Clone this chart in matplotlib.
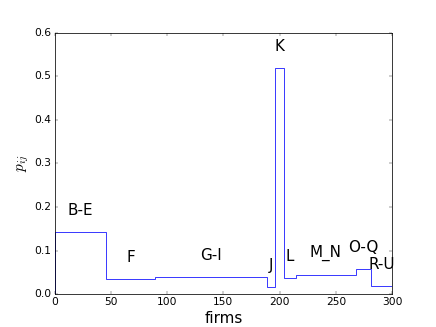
import numpy as np
import matplotlib
matplotlib.use('Agg')
import matplotlib.pyplot as plt

plt.style.use('classic')

# sector groups along the firm axis, with the share p_ij for each group
sectors = ['B-E', 'F', 'G-I', 'J', 'K', 'L', 'M_N', 'O-Q', 'R-U']
edges = [0, 46, 89, 188.6, 196, 203.5, 214.4, 267.3, 280.7, 300]
p_ij = [0.143, 0.035, 0.040, 0.017, 0.518, 0.037, 0.044, 0.058, 0.019]


def main():
    fig, ax = plt.subplots(figsize=(8, 6), dpi=54.5)
    fig.patch.set_facecolor('white')

    ax.stairs(p_ij, edges, baseline=0, color='b', linewidth=1)

    centres = (np.array(edges[:-1]) + np.array(edges[1:])) / 2
    for name, xc, val in zip(sectors, centres, p_ij):
        ax.text(xc, val + 0.05, name, fontsize=20, ha='center', va='center')

    ax.set_xlim(0, 300)
    ax.set_ylim(0, 0.6)
    ax.tick_params(labelsize=14)
    ax.set_xlabel('firms', fontsize=20)
    ax.set_ylabel('$p_{ij}$', fontsize=20)

    fig.savefig('out.png', dpi=54.5, facecolor='white')


if __name__ == '__main__':
    main()
